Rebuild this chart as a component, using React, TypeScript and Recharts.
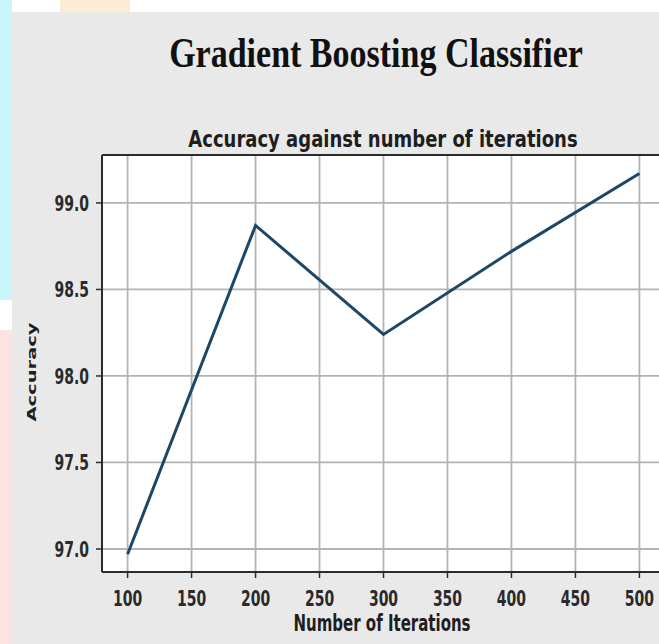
import React from "react";
import {
  LineChart,
  Line,
  XAxis,
  YAxis,
  CartesianGrid,
  ReferenceLine,
} from "recharts";

const iterations = [100, 200, 300, 400, 500];
const accuracy = [96.97, 98.87, 98.24, 98.72, 99.17];

const xTicks = [100, 150, 200, 250, 300, 350, 400, 450, 500];
const yTicks = [97.0, 97.5, 98.0, 98.5, 99.0];

const X_DOMAIN: [number, number] = [80, 520];
const Y_DOMAIN: [number, number] = [96.867, 99.277];

const chartData = iterations.map((it, i) => ({ iterations: it, accuracy: accuracy[i] }));

// the source picture is squashed sideways, so text is drawn taller than wide
const STRETCH = 1.5;
const TICK_SIZE = 14;
const sans = "DejaVu Sans, Verdana, sans-serif";
const half = 0.3645 * TICK_SIZE * STRETCH;

function XTick(props: any) {
  const { x, payload } = props;
  const base = 598 + half;
  return (
    <text
      transform={`translate(${x} ${base}) scale(1 ${STRETCH})`}
      textAnchor="middle"
      fontFamily={sans}
      fontWeight={700}
      fontSize={TICK_SIZE}
      fill="#2a2a2a"
    >
      {payload.value}
    </text>
  );
}

function YTick(props: any) {
  const { x, y, payload } = props;
  return (
    <text
      transform={`translate(${x} ${y + half}) scale(1 ${STRETCH})`}
      textAnchor="end"
      fontFamily={sans}
      fontWeight={700}
      fontSize={TICK_SIZE}
      fill="#2a2a2a"
    >
      {Number(payload.value).toFixed(1)}
    </text>
  );
}

export default function App() {
  return (
    <div
      style={{
        position: "absolute",
        left: 0,
        top: 0,
        width: 659,
        height: 644,
        overflow: "hidden",
        background: "#ffffff",
      }}
    >
      {/* page scraps around the slide */}
      <div style={{ position: "absolute", left: 0, top: 0, width: 12, height: 300, background: "#c8f6fb" }} />
      <div style={{ position: "absolute", left: 0, top: 330, width: 12, height: 314, background: "#fde2e4" }} />
      <div style={{ position: "absolute", left: 60, top: 0, width: 70, height: 12, background: "#fdebd6" }} />

      <div
        style={{
          position: "absolute",
          left: 12,
          top: 12,
          width: 647,
          height: 632,
          background: "#e9e9e9",
        }}
      />

      <div
        style={{
          position: "absolute",
          left: 0,
          top: 33,
          width: 752,
          textAlign: "center",
          fontFamily: "Liberation Serif, Times New Roman, serif",
          fontWeight: 700,
          fontSize: 34,
          color: "#111",
          lineHeight: "40px",
          transform: "scaleY(1.25)",
        }}
      >
        Gradient Boosting Classifier
      </div>

      <div
        style={{
          position: "absolute",
          left: 0,
          top: 127,
          width: 766,
          textAlign: "center",
          fontFamily: sans,
          fontWeight: 700,
          fontSize: 18,
          color: "#1e1e1e",
          lineHeight: "24px",
          transform: "scaleY(1.3)",
        }}
      >
        Accuracy against number of iterations
      </div>

      <div
        style={{
          position: "absolute",
          left: 0,
          top: 613,
          width: 764,
          textAlign: "center",
          fontFamily: sans,
          fontWeight: 700,
          fontSize: 15,
          color: "#1e1e1e",
          lineHeight: "20px",
          transform: `scaleY(${STRETCH})`,
        }}
      >
        Number of Iterations
      </div>

      <div
        style={{
          position: "absolute",
          left: 32,
          top: 372,
          transform: `translate(-50%, -50%) scaleY(${STRETCH}) rotate(-90deg)`,
          fontFamily: sans,
          fontWeight: 700,
          fontSize: 13,
          color: "#1e1e1e",
          whiteSpace: "nowrap",
          lineHeight: "16px",
        }}
      >
        Accuracy
      </div>

      <div style={{ position: "absolute", left: 0, top: 0 }}>
        <LineChart
          width={700}
          height={644}
          data={chartData}
          margin={{ top: 155, right: 35, bottom: 0, left: 0 }}
        >
          <CartesianGrid stroke="#b3b3b3" strokeWidth={1.8} fill="#ffffff" syncWithTicks />
          <XAxis
            dataKey="iterations"
            type="number"
            domain={X_DOMAIN}
            ticks={xTicks}
            allowDataOverflow
            height={72}
            tick={<XTick />}
            tickSize={6}
            tickLine={{ stroke: "#2b2b2b", strokeWidth: 1.5 }}
            axisLine={{ stroke: "#2b2b2b", strokeWidth: 2 }}
          />
          <YAxis
            type="number"
            domain={Y_DOMAIN}
            ticks={yTicks}
            allowDataOverflow
            width={102}
            tick={<YTick />}
            tickSize={6}
            tickMargin={7}
            tickLine={{ stroke: "#2b2b2b", strokeWidth: 1.5 }}
            axisLine={{ stroke: "#2b2b2b", strokeWidth: 2 }}
          />
          <ReferenceLine y={Y_DOMAIN[1]} stroke="#2b2b2b" strokeWidth={2} />
          <Line
            dataKey="accuracy"
            stroke="#1d4766"
            strokeWidth={3}
            dot={false}
            isAnimationActive={false}
          />
        </LineChart>
      </div>
    </div>
  );
}
